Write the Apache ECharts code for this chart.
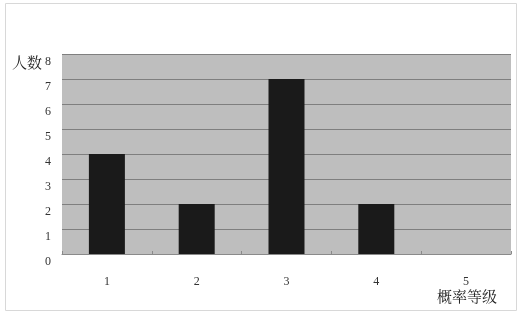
<!DOCTYPE html>
<html><head><meta charset="utf-8">
<script src="https://cdn.jsdelivr.net/npm/echarts@6/dist/echarts.min.js"></script>
<style>html,body{margin:0;padding:0;background:#fff}#c{width:520px;height:316px}</style>
</head><body><div id="c"></div>
<script>
const categories = ['1', '2', '3', '4', '5'];
const counts = [4, 2, 7, 2, 0];
const yTicks = [0, 1, 2, 3, 4, 5, 6, 7, 8];
const yName = '人数';
const xName = '概率等级';

const serif = '"Liberation Serif","DejaVu Serif",serif';
const cjk = '"Noto Serif CJK SC","Noto Sans CJK SC",serif';
const chart = echarts.init(document.getElementById('c'));
chart.setOption({
  animation: false,
  grid: { left: 62, right: 9, top: 54, bottom: 62, show: true, backgroundColor: '#bebebe', borderWidth: 0 },
  xAxis: {
    type: 'category', data: categories,
    axisLine: { lineStyle: { color: '#8a8a8a', width: 1 } },
    axisTick: { show: true, inside: true, length: 3, lineStyle: { color: '#8a8a8a' } },
    axisLabel: { margin: 22, fontFamily: serif, fontSize: 12, color: '#333' }
  },
  yAxis: {
    type: 'value', min: yTicks[0], max: yTicks[yTicks.length - 1], interval: 1,
    axisLine: { show: false }, axisTick: { show: false },
    splitLine: { lineStyle: { color: '#7f7f7f', width: 1 } },
    axisLabel: { margin: 11, fontFamily: serif, fontSize: 12, color: '#333', verticalAlign: 'top', padding: [2, 0, 0, 0] }
  },
  series: [{
    type: 'bar', data: counts, barWidth: 36,
    itemStyle: { color: '#1a1a1a' }
  }],
  graphic: [
    { type: 'rect', shape: { x: 5.5, y: 3.5, width: 511, height: 307 }, style: { fill: 'none', stroke: '#d8d8d8', lineWidth: 1 }, z: -10 },
    { type: 'text', left: 12, top: 55, style: { text: yName, font: '15px ' + cjk, fill: '#222' } },
    { type: 'text', left: 437, top: 289, style: { text: xName, font: '15px ' + cjk, fill: '#222' } }
  ]
});
</script></body></html>
